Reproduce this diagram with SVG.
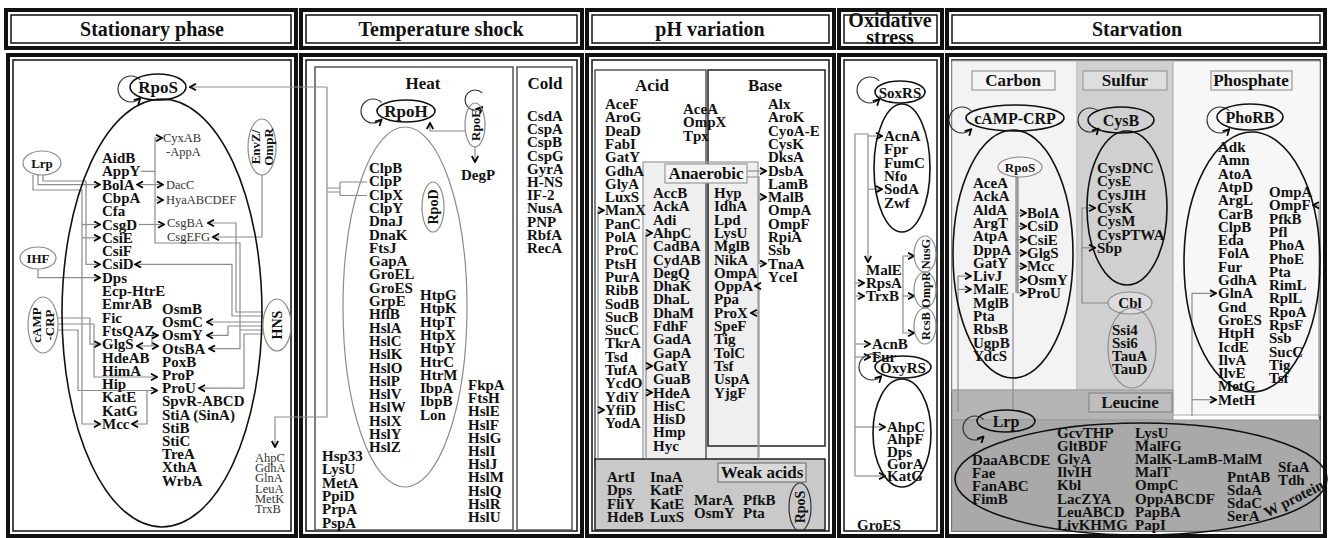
<svg xmlns="http://www.w3.org/2000/svg" width="1328" height="538" viewBox="0 0 1328 538">
<defs>
<marker id="ah" viewBox="0 0 10 10" refX="9" refY="5" markerWidth="8" markerHeight="8" markerUnits="userSpaceOnUse" orient="auto-start-reverse"><path d="M1.5,1 L9,5 L1.5,9" fill="none" stroke="#000" stroke-width="2.2"/></marker>
<style>
text{font-family:"Liberation Serif","Times New Roman",serif;fill:#111}
.hd{font-size:20px;font-weight:bold;text-anchor:middle}
.sec{font-size:17px;font-weight:bold;text-anchor:middle}
.g{font-size:15px;font-weight:bold}
.sm{font-size:12.5px;fill:#333}
.reg{font-weight:bold;text-anchor:middle}
.fo{fill:none;stroke:#111;stroke-width:4}
.fi{fill:none;stroke:#111;stroke-width:1.5}
.cn{fill:none;stroke:#8c8c8c;stroke-width:1.2}
.ar{marker-end:url(#ah)}
.loop{fill:none;stroke:#333;stroke-width:1.2;marker-end:url(#ah)}
.ell{fill:none;stroke:#111;stroke-width:1.6}
.gell{fill:none;stroke:#8c8c8c;stroke-width:1.2}
.box{fill:none;stroke:#555;stroke-width:1.5}
.lbl{fill:#f4f4f4;stroke:#999;stroke-width:1.2}
</style>
</defs>
<rect width="1328" height="538" fill="#fff"/>

<!-- panel frames: header strip and body, each with a heavy outer and thin inner rule -->
<g id="frames">
<rect class="fo" x="6" y="10" width="290" height="38"/><rect class="fi" x="11" y="15" width="280" height="28"/>
<rect class="fo" x="8" y="55" width="288" height="481"/><rect class="fi" x="13" y="60" width="278" height="471"/>
<rect class="fo" x="301" y="10" width="281" height="38"/><rect class="fi" x="306" y="15" width="271" height="28"/>
<rect class="fo" x="301" y="55" width="281" height="481"/><rect class="fi" x="306" y="60" width="271" height="471"/>
<rect class="fo" x="587" y="10" width="247" height="38"/><rect class="fi" x="592" y="15" width="237" height="28"/>
<rect class="fo" x="587" y="55" width="247" height="481"/><rect class="fi" x="592" y="60" width="237" height="471"/>
<rect class="fo" x="839" y="10" width="103" height="38"/><rect class="fi" x="844" y="15" width="93" height="28"/>
<rect class="fo" x="839" y="55" width="103" height="481"/><rect class="fi" x="844" y="60" width="93" height="471"/>
<rect class="fo" x="947" y="10" width="378" height="38"/><rect class="fi" x="952" y="15" width="368" height="28"/>
<rect class="fo" x="947" y="55" width="378" height="481"/><rect class="fi" x="952" y="60" width="368" height="471"/>
</g>

<g id="headers">
<text class="hd" x="152" y="36">Stationary phase</text>
<text class="hd" x="441" y="36">Temperature shock</text>
<text class="hd" x="710" y="36">pH variation</text>
<text class="hd" x="890" y="27" font-size="15.5">Oxidative</text>
<text class="hd" x="890" y="44" font-size="15.5">stress</text>
<text class="hd" x="1137" y="36">Starvation</text>
</g>

<!-- shaded sub-areas -->
<g id="areas">
<rect x="315" y="67" width="198" height="463" class="box"/>
<rect x="517" y="67" width="55" height="463" class="box"/>
<rect x="643" y="162" width="115" height="298" fill="#efefef"/>
<rect x="595" y="70" width="111" height="395" class="box"/>
<rect x="708" y="70" width="117" height="376" fill="none" stroke="#222" stroke-width="1.5"/>
<rect x="643" y="162" width="115" height="298" fill="none" stroke="#999" stroke-width="1.2"/>
<rect x="595" y="459" width="230" height="71" fill="#c9c9c9" stroke="#222" stroke-width="1.5"/>
<rect x="952" y="61" width="125" height="329" fill="#f3f3f3" stroke="#bbb"/>
<rect x="1077" y="61" width="96" height="329" fill="#d0d0d0" stroke="#bbb"/>
<rect x="1173" y="61" width="147" height="354" fill="#f7f7f7" stroke="#aaa"/>
<rect x="952" y="390" width="221" height="30" fill="#b5b5b5" stroke="#999"/>
<rect x="952" y="420" width="368" height="111" fill="#a9a9a9" stroke="#999"/>
</g>

<g id="connectors">
<!-- stationary phase -->
<path class="cn ar" d="M327 87H190"/>
<path class="cn ar" d="M327 87V417H275V447"/>
<path class="cn" d="M327 188H340M327 192H340M340 182V195.5M340 182H367M340 195.5H367"/>
<path class="cn ar" d="M38 175V184.6H100"/>
<path class="cn ar" d="M33 175V190H82V424H100"/>
<path class="cn ar" d="M82 224.5H100"/>
<path class="cn ar" d="M82 237.8H100"/>
<path class="cn ar" d="M43 175V181H86V264.4H100"/>
<path class="cn ar" d="M38 269V277.7H100"/>
<path class="cn ar" d="M58 318H90V344.2H100"/>
<path class="cn ar" d="M58 324H94V377H157"/>
<path class="cn ar" d="M58 330H78V390.5H157"/>
<path class="cn ar" d="M147 390.5V424H132"/>
<path class="cn ar" d="M137 346H158" marker-start="url(#ah)"/>
<path class="cn ar" d="M152 346V335.4H158"/>
<path class="cn ar" d="M263 316H232V264.4H135"/>
<path class="cn ar" d="M263 312H236V223H208"/>
<path class="cn ar" d="M263 322H207"/>
<path class="cn ar" d="M263 326H228V335.4H207"/>
<path class="cn ar" d="M263 330H240V348.6H209"/>
<path class="cn ar" d="M263 334H244V388.2H199"/>
<path class="cn" d="M155 200V243H240V330"/>
<path class="cn ar" d="M262 175V237H213"/>
<path class="cn ar" d="M141 171.3H155V138H162"/>
<path class="cn ar" d="M155 171.3V200H163"/>
<path class="cn ar" d="M155 184.6H137"/>
<path class="cn ar" d="M155 184.6H163"/>
<path class="cn ar" d="M139 224.5H164"/>
<!-- temperature shock -->
<path class="cn ar" d="M466 131H430V123"/>
<path class="cn ar" d="M475 147V162"/>
<!-- pH variation -->
<path class="cn ar" d="M747 171H766"/>
<path class="cn ar" d="M747 177H759V263.6H766"/>
<path class="cn ar" d="M759 197H766"/>
<path class="cn ar" d="M759 459V286H755"/>
<path class="cn ar" d="M759 313H751"/>
<path class="cn ar" d="M646 459V233H652"/>
<path class="cn ar" d="M646 366H652"/>
<path class="cn ar" d="M646 392.5H652"/>
<path class="cn ar" d="M598 459V210.4H604"/>
<path class="cn ar" d="M598 410H604"/>
<!-- oxidative stress -->
<path class="cn ar" d="M868 136H882"/>
<path class="cn ar" d="M855 476V134H868V262"/>
<path class="cn ar" d="M868 189.2H882"/>
<path class="cn ar" d="M855 283H864"/>
<path class="cn ar" d="M855 296H864"/>
<path class="cn ar" d="M855 344H870"/>
<path class="cn ar" d="M855 357H870"/>
<path class="cn ar" d="M855 427H885"/>
<path class="cn ar" d="M855 476H885"/>
<path class="cn ar" d="M902 296H914"/>
<path class="cn ar" d="M903 256H914"/>
<path class="cn ar" d="M903 256V333H914"/>
<!-- starvation -->
<path d="M1017 177V293" fill="none" stroke="#9c9c9c" stroke-width="3.5"/>
<path class="cn ar" d="M1017 213H1026"/>
<path class="cn ar" d="M1017 226.3H1026"/>
<path class="cn ar" d="M1017 239.6H1026"/>
<path class="cn ar" d="M1017 252.9H1026"/>
<path class="cn ar" d="M1017 266.2H1026"/>
<path class="cn ar" d="M1017 279.5H1026"/>
<path class="cn ar" d="M1017 292.8H1026"/>
<path class="cn" d="M1013 293V410"/>
<path class="cn ar" d="M958 412V276.1H971"/>
<path class="cn ar" d="M958 289.4H971"/>
<path class="cn ar" d="M1108 303H1082V208H1095"/>
<path class="cn ar" d="M1082 247.8H1095"/>
<path class="cn ar" d="M1192 416V293.3H1216"/>
<path class="cn ar" d="M1192 399.7H1216"/>
<path class="cn ar" d="M1319 418V205.3H1313"/>
<!-- autoregulation loops -->
<path class="loop" d="M140.2 79.8A13 13 0 1 0 140.2 98.2"/>
<path class="loop" d="M381.5 102.5A12 12 0 1 0 381.5 119.5"/>
<path class="loop" d="M482.1 92.9A10 10 0 1 0 482.1 107.1"/>
<path class="loop" d="M879.2 80.8A13 13 0 1 0 879.2 99.2"/>
<path class="loop" d="M881.2 357.8A13 13 0 1 0 881.2 376.2"/>
<path class="loop" d="M971.2 110.8A13 13 0 1 0 971.2 129.2"/>
<path class="loop" d="M1098.5 111.5A12 12 0 1 0 1098.5 128.5"/>
<path class="loop" d="M1229.2 110.8A13 13 0 1 0 1229.2 129.2"/>
<path class="loop" d="M983.5 419.5A12 12 0 1 0 983.5 436.5"/>
</g>

<!-- ===== Stationary phase ===== -->
<g id="rpos-stationary">
<ellipse class="ell" cx="158" cy="87" rx="28" ry="13"/>
<text class="reg" x="158" y="93" font-size="17">RpoS</text>
</g>
<g id="rpos-regulon">
<ellipse class="ell" cx="162" cy="313" rx="100" ry="214"/>
<text class="g" x="102" y="163"><tspan x="102">AidB</tspan><tspan x="102" dy="13.3">AppY</tspan><tspan x="102" dy="13.3">BolA</tspan><tspan x="102" dy="13.3">CbpA</tspan><tspan x="102" dy="13.3">Cfa</tspan><tspan x="102" dy="13.3">CsgD</tspan><tspan x="102" dy="13.3">CsiE</tspan><tspan x="102" dy="13.3">CsiF</tspan><tspan x="102" dy="13.3">CsiD</tspan><tspan x="102" dy="13.3">Dps</tspan><tspan x="102" dy="13.3">Ecp-HtrE</tspan><tspan x="102" dy="13.3">EmrAB</tspan><tspan x="102" dy="13.3">Fic</tspan><tspan x="102" dy="13.3">FtsQAZ</tspan><tspan x="102" dy="13.3">GlgS</tspan><tspan x="102" dy="13.3">HdeAB</tspan><tspan x="102" dy="13.3">HimA</tspan><tspan x="102" dy="13.3">Hip</tspan><tspan x="102" dy="13.3">KatE</tspan><tspan x="102" dy="13.3">KatG</tspan><tspan x="102" dy="13.3">Mcc</tspan></text>
<text class="g" x="162" y="314"><tspan x="162">OsmB</tspan><tspan x="162" dy="13.2">OsmC</tspan><tspan x="162" dy="13.2">OsmY</tspan><tspan x="162" dy="13.2">OtsBA</tspan><tspan x="162" dy="13.2">PoxB</tspan><tspan x="162" dy="13.2">ProP</tspan><tspan x="162" dy="13.2">ProU</tspan><tspan x="162" dy="13.2">SpvR-ABCD</tspan><tspan x="162" dy="13.2">StiA (SinA)</tspan><tspan x="162" dy="13.2">StiB</tspan><tspan x="162" dy="13.2">StiC</tspan><tspan x="162" dy="13.2">TreA</tspan><tspan x="162" dy="13.2">XthA</tspan><tspan x="162" dy="13.2">WrbA</tspan></text>
<text class="sm" x="163" y="142">CyxAB</text>
<text class="sm" x="166" y="156">-AppA</text>
<text class="sm" x="166" y="189">DacC</text>
<text class="sm" x="166" y="204">HyaABCDEF</text>
<text class="sm" x="167" y="227">CsgBA</text>
<text class="sm" x="167" y="241">CsgEFG</text>
</g>
<g id="lrp-stationary"><ellipse class="gell" cx="42" cy="163" rx="19" ry="12"/><text class="reg" x="42" y="168" font-size="13">Lrp</text></g>
<g id="ihf"><ellipse class="gell" cx="38" cy="258" rx="18" ry="11"/><text class="reg" x="38" y="263" font-size="13">IHF</text></g>
<g id="camp-crp-stationary"><ellipse class="gell" cx="43" cy="325" rx="15" ry="28"/><text class="reg" font-size="13" transform="translate(43,325) rotate(-90)"><tspan x="0" y="-2">cAMP</tspan><tspan x="0" y="11">-CRP</tspan></text></g>
<g id="envz-ompr"><ellipse class="gell" cx="262" cy="147" rx="14" ry="28"/><text class="reg" font-size="13" transform="translate(262,147) rotate(-90)"><tspan x="0" y="-2">EnvZ/</tspan><tspan x="0" y="11">OmpR</tspan></text></g>
<g id="hns"><ellipse class="gell" cx="277" cy="325" rx="14" ry="26"/><text class="reg" font-size="14" transform="translate(277,325) rotate(-90)" y="5">HNS</text></g>
<g id="rpoh-targets"><text class="sm" x="255" y="462" font-size="12"><tspan x="255">AhpC</tspan><tspan x="255" dy="10.2">GdhA</tspan><tspan x="255" dy="10.2">GlnA</tspan><tspan x="255" dy="10.2">LeuA</tspan><tspan x="255" dy="10.2">MetK</tspan><tspan x="255" dy="10.2">TrxB</tspan></text></g>

<!-- ===== Temperature shock ===== -->
<g id="heat">
<text class="sec" x="423" y="89">Heat</text>
<ellipse cx="405" cy="307" rx="62" ry="180" fill="none" stroke="#8c8c8c" stroke-width="1.2"/>
<text class="g" x="369" y="173"><tspan x="369">ClpB</tspan><tspan x="369" dy="13.3">ClpP</tspan><tspan x="369" dy="13.3">ClpX</tspan><tspan x="369" dy="13.3">ClpY</tspan><tspan x="369" dy="13.3">DnaJ</tspan><tspan x="369" dy="13.3">DnaK</tspan><tspan x="369" dy="13.3">FtsJ</tspan><tspan x="369" dy="13.3">GapA</tspan><tspan x="369" dy="13.3">GroEL</tspan><tspan x="369" dy="13.3">GroES</tspan><tspan x="369" dy="13.3">GrpE</tspan><tspan x="369" dy="13.3">HflB</tspan><tspan x="369" dy="13.3">HslA</tspan><tspan x="369" dy="13.3">HslC</tspan><tspan x="369" dy="13.3">HslK</tspan><tspan x="369" dy="13.3">HslO</tspan><tspan x="369" dy="13.3">HslP</tspan><tspan x="369" dy="13.3">HslV</tspan><tspan x="369" dy="13.3">HslW</tspan><tspan x="369" dy="13.3">HslX</tspan><tspan x="369" dy="13.3">HslY</tspan><tspan x="369" dy="13.3">HslZ</tspan></text>
<text class="g" x="420" y="300"><tspan x="420">HtpG</tspan><tspan x="420" dy="13.3">HtpK</tspan><tspan x="420" dy="13.3">HtpT</tspan><tspan x="420" dy="13.3">HtpX</tspan><tspan x="420" dy="13.3">HtpY</tspan><tspan x="420" dy="13.3">HtrC</tspan><tspan x="420" dy="13.3">HtrM</tspan><tspan x="420" dy="13.3">IbpA</tspan><tspan x="420" dy="13.3">IbpB</tspan><tspan x="420" dy="13.3">Lon</tspan></text>
<text class="g" x="468" y="390"><tspan x="468">FkpA</tspan><tspan x="468" dy="13.2">FtsH</tspan><tspan x="468" dy="13.2">HslE</tspan><tspan x="468" dy="13.2">HslF</tspan><tspan x="468" dy="13.2">HslG</tspan><tspan x="468" dy="13.2">HslI</tspan><tspan x="468" dy="13.2">HslJ</tspan><tspan x="468" dy="13.2">HslM</tspan><tspan x="468" dy="13.2">HslQ</tspan><tspan x="468" dy="13.2">HslR</tspan><tspan x="468" dy="13.2">HslU</tspan></text>
<text class="g" x="322" y="461"><tspan x="322">Hsp33</tspan><tspan x="322" dy="13.3">LysU</tspan><tspan x="322" dy="13.3">MetA</tspan><tspan x="322" dy="13.3">PpiD</tspan><tspan x="322" dy="13.3">PrpA</tspan><tspan x="322" dy="13.3">PspA</tspan></text>
<text class="reg" x="478" y="180" font-size="15">DegP</text>
</g>
<g id="rpoh"><ellipse class="ell" cx="406" cy="111" rx="29" ry="11"/><text class="reg" x="406" y="117" font-size="17">RpoH</text></g>
<g id="rpoe"><ellipse class="gell" cx="475" cy="125" rx="10" ry="22"/><text class="reg" font-size="13" transform="translate(475,125) rotate(-90)" y="5">RpoE</text></g>
<g id="rpod"><ellipse class="gell" cx="433" cy="207" rx="11" ry="25"/><text class="reg" font-size="14" transform="translate(433,207) rotate(-90)" y="5">RpoD</text></g>
<g id="cold">
<text class="sec" x="545" y="89">Cold</text>
<text class="g" x="527" y="121"><tspan x="527">CsdA</tspan><tspan x="527" dy="13.2">CspA</tspan><tspan x="527" dy="13.2">CspB</tspan><tspan x="527" dy="13.2">CspG</tspan><tspan x="527" dy="13.2">GyrA</tspan><tspan x="527" dy="13.2">H-NS</tspan><tspan x="527" dy="13.2">IF-2</tspan><tspan x="527" dy="13.2">NusA</tspan><tspan x="527" dy="13.2">PNP</tspan><tspan x="527" dy="13.2">RbfA</tspan><tspan x="527" dy="13.2">RecA</tspan></text>
</g>

<!-- ===== pH variation ===== -->
<g id="acid">
<text class="sec" x="652" y="91">Acid</text>
<text class="g" x="605" y="109"><tspan x="605">AceF</tspan><tspan x="605" dy="13.3">AroG</tspan><tspan x="605" dy="13.3">DeaD</tspan><tspan x="605" dy="13.3">FabI</tspan><tspan x="605" dy="13.3">GatY</tspan><tspan x="605" dy="13.3">GdhA</tspan><tspan x="605" dy="13.3">GlyA</tspan><tspan x="605" dy="13.3">LuxS</tspan><tspan x="605" dy="13.3">ManX</tspan><tspan x="605" dy="13.3">PanC</tspan><tspan x="605" dy="13.3">PolA</tspan><tspan x="605" dy="13.3">ProC</tspan><tspan x="605" dy="13.3">PtsH</tspan><tspan x="605" dy="13.3">PurA</tspan><tspan x="605" dy="13.3">RibB</tspan><tspan x="605" dy="13.3">SodB</tspan><tspan x="605" dy="13.3">SucB</tspan><tspan x="605" dy="13.3">SucC</tspan><tspan x="605" dy="13.3">TkrA</tspan><tspan x="605" dy="13.3">Tsd</tspan><tspan x="605" dy="13.3">TufA</tspan><tspan x="605" dy="13.3">YcdO</tspan><tspan x="605" dy="13.3">YdiY</tspan><tspan x="605" dy="13.3">YfiD</tspan><tspan x="605" dy="13.3">YodA</tspan></text>
</g>
<g id="acid-base-common"><text class="g" x="683" y="114"><tspan x="683">AceA</tspan><tspan x="683" dy="13.3">OmpX</tspan><tspan x="683" dy="13.3">Tpx</tspan></text></g>
<g id="base">
<text class="sec" x="765" y="91">Base</text>
<text class="g" x="768" y="109"><tspan x="768">Alx</tspan><tspan x="768" dy="13.3">AroK</tspan><tspan x="768" dy="13.3">CyoA-E</tspan><tspan x="768" dy="13.3">CysK</tspan><tspan x="768" dy="13.3">DksA</tspan><tspan x="768" dy="13.3">DsbA</tspan><tspan x="768" dy="13.3">LamB</tspan><tspan x="768" dy="13.3">MalB</tspan><tspan x="768" dy="13.3">OmpA</tspan><tspan x="768" dy="13.3">OmpF</tspan><tspan x="768" dy="13.3">RpiA</tspan><tspan x="768" dy="13.3">Ssb</tspan><tspan x="768" dy="13.3">TnaA</tspan><tspan x="768" dy="13.3">YceI</tspan></text>
</g>
<g id="anaerobic">
<rect class="lbl" x="665" y="164" width="82" height="19"/>
<text class="sec" x="706" y="179">Anaerobic</text>
<text class="g" x="653" y="198"><tspan x="653">AccB</tspan><tspan x="653" dy="13.3">AckA</tspan><tspan x="653" dy="13.3">Adi</tspan><tspan x="653" dy="13.3">AhpC</tspan><tspan x="653" dy="13.3">CadBA</tspan><tspan x="653" dy="13.3">CydAB</tspan><tspan x="653" dy="13.3">DegQ</tspan><tspan x="653" dy="13.3">DhaK</tspan><tspan x="653" dy="13.3">DhaL</tspan><tspan x="653" dy="13.3">DhaM</tspan><tspan x="653" dy="13.3">FdhF</tspan><tspan x="653" dy="13.3">GadA</tspan><tspan x="653" dy="13.3">GapA</tspan><tspan x="653" dy="13.3">GatY</tspan><tspan x="653" dy="13.3">GuaB</tspan><tspan x="653" dy="13.3">HdeA</tspan><tspan x="653" dy="13.3">HisC</tspan><tspan x="653" dy="13.3">HisD</tspan><tspan x="653" dy="13.3">Hmp</tspan><tspan x="653" dy="13.3">Hyc</tspan></text>
<text class="g" x="714" y="198"><tspan x="714">Hyp</tspan><tspan x="714" dy="13.3">IdhA</tspan><tspan x="714" dy="13.3">Lpd</tspan><tspan x="714" dy="13.3">LysU</tspan><tspan x="714" dy="13.3">MglB</tspan><tspan x="714" dy="13.3">NikA</tspan><tspan x="714" dy="13.3">OmpA</tspan><tspan x="714" dy="13.3">OppA</tspan><tspan x="714" dy="13.3">Ppa</tspan><tspan x="714" dy="13.3">ProX</tspan><tspan x="714" dy="13.3">SpeF</tspan><tspan x="714" dy="13.3">Tig</tspan><tspan x="714" dy="13.3">TolC</tspan><tspan x="714" dy="13.3">Tsf</tspan><tspan x="714" dy="13.3">UspA</tspan><tspan x="714" dy="13.3">YjgF</tspan></text>
</g>
<g id="weak-acids">
<rect x="718" y="463" width="88" height="19" fill="#d9d9d9" stroke="#777" stroke-width="1.2"/>
<text class="sec" x="762" y="478">Weak acids</text>
<text class="g" x="607" y="482"><tspan x="607">ArtI</tspan><tspan x="607" dy="13.4">Dps</tspan><tspan x="607" dy="13.4">FliY</tspan><tspan x="607" dy="13.4">HdeB</tspan></text>
<text class="g" x="650" y="482"><tspan x="650">InaA</tspan><tspan x="650" dy="13.4">KatF</tspan><tspan x="650" dy="13.4">KatE</tspan><tspan x="650" dy="13.4">LuxS</tspan></text>
<text class="g" x="694" y="505"><tspan x="694">MarA</tspan><tspan x="694" dy="13.4">OsmY</tspan></text>
<text class="g" x="743" y="505"><tspan x="743">PfkB</tspan><tspan x="743" dy="13.4">Pta</tspan></text>
</g>
<g id="rpos-ph"><ellipse cx="800" cy="507" rx="11" ry="24" fill="none" stroke="#333" stroke-width="1.2"/><text class="reg" font-size="14" transform="translate(800,507) rotate(-90)" y="5">RpoS</text></g>

<!-- ===== Oxidative stress ===== -->
<g id="soxrs">
<ellipse class="ell" cx="900" cy="92" rx="25" ry="11"/>
<text class="reg" x="900" y="97.5" font-size="15">SoxRS</text>
<ellipse class="ell" cx="902" cy="168" rx="28" ry="64"/>
<text class="g" x="884" y="141"><tspan x="884">AcnA</tspan><tspan x="884" dy="13.3">Fpr</tspan><tspan x="884" dy="13.3">FumC</tspan><tspan x="884" dy="13.3">Nfo</tspan><tspan x="884" dy="13.3">SodA</tspan><tspan x="884" dy="13.3">Zwf</tspan></text>
</g>
<g id="shared-oxidative">
<text class="g" x="866" y="275"><tspan x="866">MalE</tspan><tspan x="866" dy="13">RpsA</tspan><tspan x="866" dy="13">TrxB</tspan></text>
<text class="g" x="872" y="349"><tspan x="872">AcnB</tspan><tspan x="872" dy="13">Fur</tspan></text>
</g>
<g id="nusg"><ellipse class="gell" cx="925" cy="254" rx="11" ry="18"/><text class="reg" font-size="12.5" transform="translate(925,254) rotate(-90)" y="4.5">NusG</text></g>
<g id="ompr"><ellipse class="gell" cx="925" cy="290" rx="11" ry="18"/><text class="reg" font-size="12.5" transform="translate(925,290) rotate(-90)" y="4.5">OmpR</text></g>
<g id="rcsb"><ellipse class="gell" cx="925" cy="326" rx="11" ry="18"/><text class="reg" font-size="12.5" transform="translate(925,326) rotate(-90)" y="4.5">RcsB</text></g>
<g id="oxyrs">
<ellipse class="ell" cx="903" cy="367" rx="28" ry="11"/>
<text class="reg" x="903" y="372.5" font-size="15">OxyRS</text>
<ellipse class="ell" cx="902" cy="433" rx="29" ry="54"/>
<text class="g" x="887" y="432"><tspan x="887">AhpC</tspan><tspan x="887" dy="12.3">AhpF</tspan><tspan x="887" dy="12.3">Dps</tspan><tspan x="887" dy="12.3">GorA</tspan><tspan x="887" dy="12.3">KatG</tspan></text>
</g>
<g id="groes-oxidative"><text class="g" x="857" y="530">GroES</text></g>

<!-- ===== Starvation ===== -->
<g id="carbon">
<rect class="lbl" x="972" y="71" width="83" height="19"/>
<text class="sec" x="1013" y="86">Carbon</text>
<ellipse class="ell" cx="1015" cy="118" rx="49" ry="13"/>
<text class="reg" x="1015" y="123.5" font-size="16">cAMP-CRP</text>
<ellipse class="ell" cx="1013" cy="254" rx="60" ry="124"/>
<text class="g" x="973" y="188"><tspan x="973">AceA</tspan><tspan x="973" dy="13.3">AckA</tspan><tspan x="973" dy="13.3">AldA</tspan><tspan x="973" dy="13.3">ArgT</tspan><tspan x="973" dy="13.3">AtpA</tspan><tspan x="973" dy="13.3">DppA</tspan><tspan x="973" dy="13.3">GatY</tspan><tspan x="973" dy="13.3">LivJ</tspan><tspan x="973" dy="13.3">MalE</tspan><tspan x="973" dy="13.3">MglB</tspan><tspan x="973" dy="13.3">Pta</tspan><tspan x="973" dy="13.3">RbsB</tspan><tspan x="973" dy="13.3">UgpB</tspan><tspan x="973" dy="13.3">YdcS</tspan></text>
<text class="g" x="1027" y="218"><tspan x="1027">BolA</tspan><tspan x="1027" dy="13.3">CsiD</tspan><tspan x="1027" dy="13.3">CsiE</tspan><tspan x="1027" dy="13.3">GlgS</tspan><tspan x="1027" dy="13.3">Mcc</tspan><tspan x="1027" dy="13.3">OsmY</tspan><tspan x="1027" dy="13.3">ProU</tspan></text>
</g>
<g id="rpos-carbon"><ellipse cx="1020" cy="167" rx="22" ry="10" fill="#f7f7f7" stroke="#8c8c8c" stroke-width="1.2"/><text class="reg" x="1020" y="171.5" font-size="13">RpoS</text></g>
<g id="sulfur">
<rect x="1083" y="71" width="84" height="19" fill="#dedede" stroke="#999" stroke-width="1.2"/>
<text class="sec" x="1125" y="86">Sulfur</text>
<ellipse class="ell" cx="1121" cy="120" rx="33" ry="13"/>
<text class="reg" x="1121" y="125.5" font-size="16">CysB</text>
<ellipse class="ell" cx="1127" cy="208" rx="40" ry="77"/>
<text class="g" x="1097" y="173"><tspan x="1097">CysDNC</tspan><tspan x="1097" dy="13.3">CysE</tspan><tspan x="1097" dy="13.3">CysJIH</tspan><tspan x="1097" dy="13.3">CysK</tspan><tspan x="1097" dy="13.3">CysM</tspan><tspan x="1097" dy="13.3">CysPTWA</tspan><tspan x="1097" dy="13.3">Sbp</tspan></text>
</g>
<g id="cbl">
<ellipse cx="1130" cy="303" rx="22" ry="11" fill="#dcdcdc" stroke="#8c8c8c" stroke-width="1.2"/>
<text class="reg" x="1130" y="308" font-size="15">Cbl</text>
<ellipse class="gell" cx="1132" cy="348" rx="24" ry="40"/>
<text class="g" x="1112" y="335"><tspan x="1112">Ssi4</tspan><tspan x="1112" dy="13">Ssi6</tspan><tspan x="1112" dy="13">TauA</tspan><tspan x="1112" dy="13">TauD</tspan></text>
</g>
<g id="phosphate">
<rect class="lbl" x="1211" y="71" width="81" height="19"/>
<text class="sec" x="1251" y="86">Phosphate</text>
<ellipse class="ell" cx="1250" cy="117" rx="33" ry="13"/>
<text class="reg" x="1250" y="122.5" font-size="16">PhoRB</text>
<ellipse class="ell" cx="1252" cy="262" rx="68" ry="130"/>
<text class="g" x="1218" y="152"><tspan x="1218">Adk</tspan><tspan x="1218" dy="13.3">Amn</tspan><tspan x="1218" dy="13.3">AtoA</tspan><tspan x="1218" dy="13.3">AtpD</tspan><tspan x="1218" dy="13.3">ArgL</tspan><tspan x="1218" dy="13.3">CarB</tspan><tspan x="1218" dy="13.3">ClpB</tspan><tspan x="1218" dy="13.3">Eda</tspan><tspan x="1218" dy="13.3">FolA</tspan><tspan x="1218" dy="13.3">Fur</tspan><tspan x="1218" dy="13.3">GdhA</tspan><tspan x="1218" dy="13.3">GlnA</tspan><tspan x="1218" dy="13.3">Gnd</tspan><tspan x="1218" dy="13.3">GroES</tspan><tspan x="1218" dy="13.3">HtpH</tspan><tspan x="1218" dy="13.3">IcdE</tspan><tspan x="1218" dy="13.3">IlvA</tspan><tspan x="1218" dy="13.3">IlvE</tspan><tspan x="1218" dy="13.3">MetG</tspan><tspan x="1218" dy="13.3">MetH</tspan></text>
<text class="g" x="1269" y="197"><tspan x="1269">OmpA</tspan><tspan x="1269" dy="13.3">OmpF</tspan><tspan x="1269" dy="13.3">PfkB</tspan><tspan x="1269" dy="13.3">Pfl</tspan><tspan x="1269" dy="13.3">PhoA</tspan><tspan x="1269" dy="13.3">PhoE</tspan><tspan x="1269" dy="13.3">Pta</tspan><tspan x="1269" dy="13.3">RimL</tspan><tspan x="1269" dy="13.3">RplL</tspan><tspan x="1269" dy="13.3">RpoA</tspan><tspan x="1269" dy="13.3">RpsF</tspan><tspan x="1269" dy="13.3">Ssb</tspan><tspan x="1269" dy="13.3">SucC</tspan><tspan x="1269" dy="13.3">Tig</tspan><tspan x="1269" dy="13.3">Tsf</tspan></text>
</g>
<g id="leucine">
<rect x="1089" y="393" width="83" height="19" fill="#bdbdbd" stroke="#888" stroke-width="1.2"/>
<text class="sec" x="1130" y="408">Leucine</text>
<ellipse class="ell" cx="1006" cy="421" rx="29" ry="11"/>
<text class="reg" x="1006" y="426.5" font-size="16">Lrp</text>
<ellipse class="ell" cx="1141" cy="479" rx="186" ry="56"/>
<text class="g" x="972" y="465"><tspan x="972">DaaABCDE</tspan><tspan x="972" dy="13.1">Fae</tspan><tspan x="972" dy="13.1">FanABC</tspan><tspan x="972" dy="13.1">FimB</tspan></text>
<text class="g" x="1057" y="438"><tspan x="1057">GcvTHP</tspan><tspan x="1057" dy="13.1">GltBDF</tspan><tspan x="1057" dy="13.1">GlyA</tspan><tspan x="1057" dy="13.1">IlvIH</tspan><tspan x="1057" dy="13.1">Kbl</tspan><tspan x="1057" dy="13.1">LacZYA</tspan><tspan x="1057" dy="13.1">LeuABCD</tspan><tspan x="1057" dy="13.1">LivKHMG</tspan></text>
<text class="g" x="1135" y="438"><tspan x="1135">LysU</tspan><tspan x="1135" dy="13.1">MalFG</tspan><tspan x="1135" dy="13.1">MalK-LamB-MalM</tspan><tspan x="1135" dy="13.1">MalT</tspan><tspan x="1135" dy="13.1">OmpC</tspan><tspan x="1135" dy="13.1">OppABCDF</tspan><tspan x="1135" dy="13.1">PapBA</tspan><tspan x="1135" dy="13.1">PapI</tspan></text>
<text class="g" x="1227" y="482"><tspan x="1227">PntAB</tspan><tspan x="1227" dy="13.1">SdaA</tspan><tspan x="1227" dy="13.1">SdaC</tspan><tspan x="1227" dy="13.1">SerA</tspan></text>
<text class="g" x="1278" y="472"><tspan x="1278">SfaA</tspan><tspan x="1278" dy="13.1">Tdh</tspan></text>
<text class="g" text-anchor="middle" transform="translate(1296,503) rotate(-27)">W protein</text>
</g>
</svg>
